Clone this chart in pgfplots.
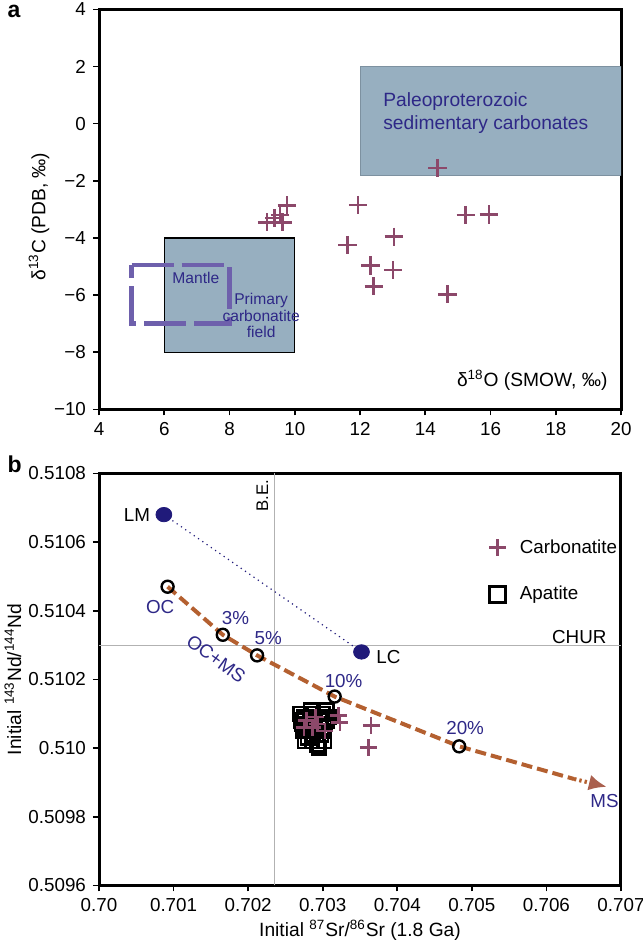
\documentclass[border=0pt]{standalone}
\usepackage{pgfplots}
\pgfplotsset{compat=1.18}
\usepackage{fontspec}
\setmainfont{Liberation Sans}
\usetikzlibrary{arrows.meta}

\definecolor{boxblue}{RGB}{151,175,192}
\definecolor{boxedge}{RGB}{125,145,160}
\definecolor{crossc}{RGB}{140,72,106}
\definecolor{mantlec}{RGB}{110,96,172}
\definecolor{navytxt}{RGB}{46,40,135}
\definecolor{dotnavy}{RGB}{32,26,122}
\definecolor{mixbrown}{RGB}{180,96,48}
\definecolor{arrowc}{RGB}{170,96,78}

\newcommand{\tk}{\fontsize{9.4}{10}\selectfont}

\pgfplotsset{
  panel/.style={
    scale only axis, width=261pt,
    axis line style={line width=1.5pt},
    tick align=outside, xtick pos=bottom, ytick pos=left,
    tick style={line width=0.8pt, black}, major tick length=3pt,
    tick label style={font=\tk},
    /pgf/number format/assume math mode=true,
  },
}

\begin{document}
\begin{tikzpicture}
\useasboundingbox (0,0) rectangle (321pt,-470.5pt);

% ---------------- panel a ----------------
\begin{axis}[panel, at={(49.5pt,-4.7pt)}, anchor=north west, height=200pt,
  xmin=4, xmax=20, ymin=-10, ymax=4,
  xtick={4,6,...,20}, ytick={-10,-8,...,4},
  yticklabels={−10,−8,−6,−4,−2,0,2,4},
  ylabel={δ\textsuperscript{13}C (PDB, ‰)},
  ylabel style={at={(axis description cs:-0.115,0.482)}, anchor=center, font=\fontsize{9.6}{10}\selectfont},
]
\fill[boxblue, draw=boxedge, line width=0.3pt] (axis cs:12,-1.8) rectangle (axis cs:20,2);
\filldraw[fill=boxblue, draw=black, line width=0.7pt] (axis cs:6,-8) rectangle (axis cs:10,-4);
\draw[mantlec, line width=2.2pt, dash pattern=on 21pt off 4pt]
  (axis cs:5,-4.95) -- (axis cs:8,-4.95) -- (axis cs:8,-7) -- (axis cs:5,-7) -- cycle;

\node[navytxt, font=\fontsize{9.6}{11.7}\selectfont, align=left, anchor=north west]
  at (axis cs:12.5,1.35) {Paleoproterozoic\\sedimentary carbonates};
\node[navytxt, font=\fontsize{7.8}{8.3}\selectfont] at (axis cs:6.97,-5.39) {Mantle};
\node[navytxt, font=\fontsize{7.8}{8.3}\selectfont, align=center] at (axis cs:8.97,-6.72) {Primary\\carbonatite\\field};
\node[black, font=\fontsize{9.6}{10}\selectfont, anchor=east] at (axis cs:19.8,-8.97) {δ\textsuperscript{18}O (SMOW, ‰)};

\addplot[only marks, mark=+, mark size=4.6pt, crossc, mark options={line width=1.35pt}] coordinates {
(14.38,-1.55) (11.94,-2.85) (15.24,-3.2) (15.95,-3.18) (11.62,-4.25)
(13.04,-3.96) (12.32,-4.97) (13.01,-5.12) (12.42,-5.69) (14.68,-5.97)
(9.15,-3.45) (9.38,-3.3) (9.62,-3.45) (9.55,-3.2) (9.76,-2.87)
};
\end{axis}

% ---------------- panel b ----------------
\begin{axis}[panel, at={(49.5pt,-236.7pt)}, anchor=north west, height=206pt,
  xmin=0.700, xmax=0.707, ymin=0.5096, ymax=0.5108,
  xtick={0.700,0.701,0.702,0.703,0.704,0.705,0.706,0.707},
  xticklabels={0.70,0.701,0.702,0.703,0.704,0.705,0.706,0.707},
  ytick={0.5096,0.5098,0.5100,0.5102,0.5104,0.5106,0.5108},
  yticklabels={0.5096,0.5098,0.510,0.5102,0.5104,0.5106,0.5108},
  ylabel={Initial \textsuperscript{143}Nd/\textsuperscript{144}Nd},
  ylabel style={at={(axis description cs:-0.165,0.5)}, anchor=center, font=\fontsize{9.6}{10}\selectfont},
  xlabel={Initial \textsuperscript{87}Sr/\textsuperscript{86}Sr (1.8 Ga)},
  xlabel style={at={(axis description cs:0.5,-0.109)}, anchor=center, font=\fontsize{9.6}{10}\selectfont},
  legend style={at={(axis description cs:0.735,0.86)}, anchor=north west, draw=none, fill=none,
    font=\fontsize{9.4}{10}\selectfont, row sep=11pt, column sep=5pt, cells={anchor=west}},
]
% reference lines
\addplot[gray!60, line width=0.5pt, forget plot] coordinates {(0.70235,0.5096) (0.70235,0.5108)};
\addplot[gray!60, line width=0.5pt, forget plot] coordinates {(0.700,0.5103) (0.707,0.5103)};
% LM - LC
\addplot[dotnavy, dotted, line width=0.6pt, forget plot] coordinates {(0.70087,0.51068) (0.70352,0.51028)};
% mixing curve
\addplot[mixbrown, line width=2pt, dash pattern=on 5.5pt off 2.5pt, forget plot] coordinates {
(0.70092,0.51047) (0.70166,0.51033) (0.70212,0.51027) (0.70316,0.51015) (0.70483,0.510005) (0.70637,0.50991)
};
\addplot[mixbrown, line width=2pt, dash pattern=on 1.2pt off 1.5pt, forget plot,
  -{Latex[length=9pt,width=8pt,color=arrowc]}] coordinates {(0.70637,0.50991) (0.70681,0.509887)};

% apatite
\addplot[only marks, mark=square, mark size=3.4pt, black, mark options={line width=1.4pt}, forget plot] coordinates {
(0.70272,0.51007) (0.70275,0.51009) (0.70278,0.51005) (0.70280,0.51003) (0.70283,0.51008)
(0.70286,0.51002) (0.70290,0.51006) (0.70293,0.51001) (0.70296,0.51009) (0.70300,0.51010)
(0.70303,0.51007) (0.70298,0.51004) (0.70288,0.51009) (0.70276,0.51002) (0.70305,0.51011)
(0.70270,0.51010) (0.70284,0.51011) (0.70292,0.51004) (0.70302,0.51002) (0.70279,0.51007)
(0.70295,0.51000) (0.70308,0.51009) (0.70274,0.51005) (0.70282,0.51006) (0.70287,0.51004)
(0.70297,0.51007) (0.70301,0.51005) (0.70306,0.51008) (0.70271,0.51008) (0.70285,0.51010)
};
% carbonatite
\addplot[only marks, mark=+, mark size=4.2pt, crossc, mark options={line width=1.3pt}, forget plot] coordinates {
(0.70365,0.510066) (0.70361,0.510002) (0.70321,0.510095) (0.70323,0.510075)
(0.70278,0.51008) (0.70286,0.51006) (0.70293,0.51007) (0.70303,0.51005) (0.70275,0.51006) (0.70290,0.51009)
};
% mixing points
\addplot[only marks, mark=o, mark size=3pt, black, mark options={line width=1.2pt}, forget plot] coordinates {
(0.70092,0.51047) (0.70166,0.51033) (0.70212,0.51027) (0.70316,0.51015) (0.70483,0.510005)
};
% end members
\addplot[only marks, mark=*, mark size=3.6pt, dotnavy, mark options={xscale=1.1}, forget plot] coordinates {
(0.70087,0.51068) (0.70352,0.51028)
};

\addlegendimage{only marks, mark=+, mark size=4.2pt, crossc, mark options={line width=1.3pt}}
\addlegendentry{Carbonatite}
\addlegendimage{only marks, mark=square, mark size=4pt, black, mark options={line width=1.1pt}}
\addlegendentry{Apatite}

\node[font=\fontsize{9.4}{10}\selectfont] at (axis cs:0.70051,0.51068) {LM};
\node[font=\fontsize{9.4}{10}\selectfont] at (axis cs:0.70388,0.510265) {LC};
\node[font=\fontsize{9.4}{10}\selectfont, anchor=east] at (axis cs:0.70690,0.510323) {CHUR};
\node[font=\fontsize{8.4}{9}\selectfont, rotate=90] at (axis cs:0.70219,0.510735) {B.E.};
\node[navytxt, font=\fontsize{9.4}{10}\selectfont] at (axis cs:0.70082,0.51041) {OC};
\node[navytxt, font=\fontsize{9.4}{10}\selectfont] at (axis cs:0.70183,0.51038) {3\%};
\node[navytxt, font=\fontsize{9.4}{10}\selectfont] at (axis cs:0.70227,0.51032) {5\%};
\node[navytxt, font=\fontsize{9.4}{10}\selectfont, rotate=-36, inner sep=0pt] at (axis cs:0.70157,0.51026) {OC+MS};
\node[navytxt, font=\fontsize{9.4}{10}\selectfont] at (axis cs:0.70328,0.510194) {10\%};
\node[navytxt, font=\fontsize{9.4}{10}\selectfont] at (axis cs:0.70491,0.510059) {20\%};
\node[navytxt, font=\fontsize{9.4}{10}\selectfont] at (axis cs:0.70678,0.509845) {MS};
\end{axis}

\node[font=\bfseries\fontsize{11.5}{12}\selectfont, anchor=base west] at (0.3pt,-8.6pt) {a};
\node[font=\bfseries\fontsize{11.5}{12}\selectfont, anchor=base west] at (0.3pt,-236pt) {b};
\end{tikzpicture}
\end{document}
